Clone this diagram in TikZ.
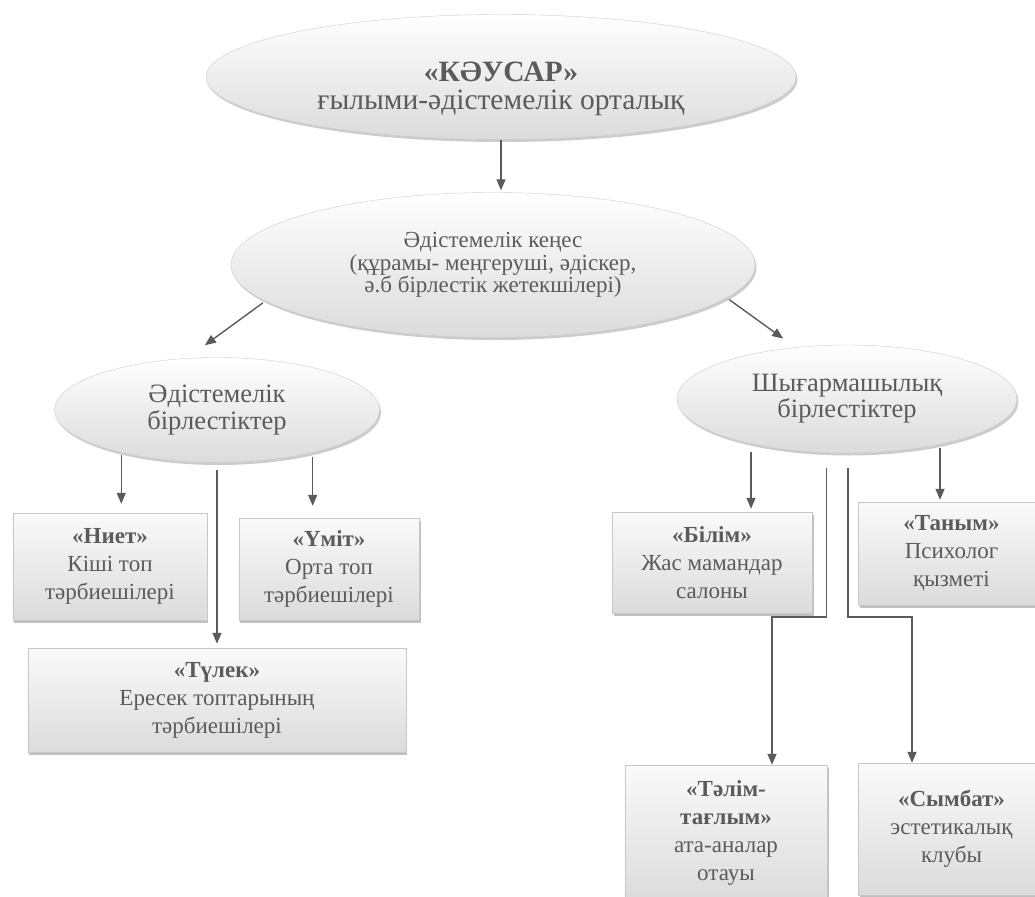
\documentclass[tikz,border=0pt]{standalone}
\usepackage{fontspec}
\setmainfont{Liberation Serif}
\usepackage{xcolor}
\usetikzlibrary{shapes.geometric, positioning, arrows.meta, shadows}
\definecolor{inkgray}{HTML}{5B5B5B}

\begin{document}
\begin{tikzpicture} [node distance = 2cm, on grid, auto,
    bubble/.style = {ellipse, draw=black!20, top color=white, bottom color=black!14,
        drop shadow={shadow xshift=1.5pt, shadow yshift=-2.5pt, fill=black!40, opacity=.5},
        text=inkgray, align=center, inner sep=0pt},
    card/.style = {rectangle, draw=black!22, top color=black!2, bottom color=black!14,
        drop shadow={shadow xshift=1.5pt, shadow yshift=-2.5pt, fill=black!45, opacity=.55},
        text=inkgray, align=center, inner sep=0pt, font=\fontsize{23}{28}\selectfont},
    link/.style = {-{Triangle[width=9pt, length=11pt]}, line width=1.4pt, color=inkgray}]

        \useasboundingbox (-501pt,77pt) rectangle (534pt,-819pt);

        % top of the scheme
        \node (kausar) [bubble, minimum width=590pt, minimum height=125pt,
        label={[yshift=-12pt, text=inkgray, align=center, font=\fontsize{29.5}{28}\selectfont]
        center:{\textbf{«КӘУСАР»}\\ ғылыми-әдістемелік орталық}}] {};
        \node (kenes) [bubble, below left = 188pt and 8pt of kausar, minimum width=524pt,
        minimum height=145pt, font=\fontsize{23}{22.5}\selectfont] {Әдістемелік кеңес\\
        (құрамы- меңгеруші, әдіскер,\\ ә.б бірлестік жетекшілері)};
        \node (adist) [bubble, below left = 145pt and 276pt of kenes, minimum width=325pt,
        minimum height=105pt, font=\fontsize{26.5}{27}\selectfont] {Әдістемелік\\ бірлестіктер};
        \node (shyg) [bubble, below right = 134pt and 354pt of kenes, minimum width=340pt,
        minimum height=108pt, font=\fontsize{26.5}{26}\selectfont] {Шығармашылық\\ бірлестіктер};

        % left branch
        \node (niet) [card, below left = 156.5pt and 107pt of adist, minimum width=194pt,
        minimum height=107pt] {\textbf{«Ниет»}\\ Кіші топ\\ тәрбиешілері};
        \node (umit) [card, below right = 159pt and 112pt of adist, minimum width=180pt,
        minimum height=102pt] {\textbf{«Үміт»}\\ Орта топ\\ тәрбиешілері};
        \node (tulek) [card, below = 290pt of adist, minimum width=378pt,
        minimum height=104pt] {\textbf{«Түлек»}\\ Ересек топтарының\\ тәрбиешілері};

        % right branch
        \node (bilim) [card, below left = 163.5pt and 135pt of shyg, minimum width=200pt,
        minimum height=101pt] {\textbf{«Білім»}\\ Жас мамандар\\ салоны};
        \node (tanym) [card, below right = 154.5pt and 104.5pt of shyg, minimum width=187pt,
        minimum height=103pt] {\textbf{«Таным»}\\ Психолог\\ қызметі};
        \node (talim) [card, below right = 270pt and 14pt of bilim, minimum width=202pt,
        minimum height=135pt] {\textbf{«Тәлім-}\\ \textbf{тағлым»}\\ ата-аналар\\ отауы};
        \node (symbat) [card, below = 275.5pt of tanym, minimum width=187pt,
        minimum height=132pt] {\textbf{«Сымбат»}\\ эстетикалық\\ клубы};

        \coordinate [above right = 148pt and 46pt of talim.north] (elbowL);
        \coordinate [above left = 146pt and 39.5pt of symbat.north] (elbowR);

        \path [link]
            (kausar.south) edge [shorten >=2pt] (kausar.south |- kenes.north)
            (kenes.189) edge [shorten <=3pt, shorten >=22pt] (adist.120)
            (kenes.352) edge [shorten <=3pt, shorten >=15pt] (shyg.135)
            (adist.204) edge [shorten <=2pt, shorten >=9pt] (adist.204 |- niet.north)
            (adist.336) edge [shorten <=4pt, shorten >=12pt] (adist.336 |- umit.north)
            (adist.south) edge [shorten <=7pt, shorten >=4pt] (adist.south |- tulek.north)
            (shyg.205) edge [shorten <=8pt, shorten >=3pt] (shyg.205 |- bilim.north)
            (shyg.334) edge [shorten <=4pt, shorten >=2pt] (shyg.334 |- tanym.north);

        \draw [link, shorten <=15pt] (shyg.249) |- (elbowL) -- (elbowL |- talim.north);
        \draw [link, shorten <=15pt] (shyg.271) |- (elbowR) -- (elbowR |- symbat.north);

    \end{tikzpicture}
\end{document}
